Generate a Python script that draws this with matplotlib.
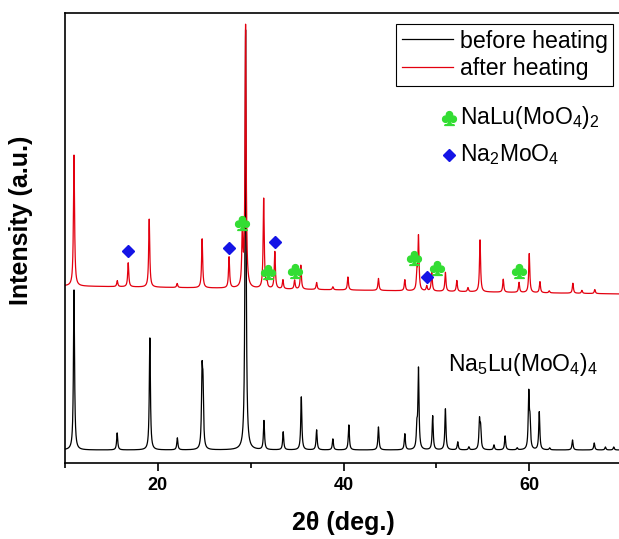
import numpy as np
import matplotlib.pyplot as plt
from matplotlib.ticker import MultipleLocator

plt.rcParams["font.family"] = ["Liberation Sans", "DejaVu Sans"]
plt.rcParams["mathtext.default"] = "regular"

# peak positions (2theta, deg) and heights (a.u.)
black_pos = [10.97, 15.62, 19.14, 22.1, 24.76, 24.86, 29.45, 31.43, 33.5, 35.45,
             37.1, 38.85, 40.57, 43.76, 46.6, 47.9, 48.07, 49.6, 50.97, 52.3,
             53.5, 54.64, 54.76, 56.2, 57.4, 58.7, 59.95, 60.08, 61.08, 62.2,
             64.66, 67.0, 68.2, 69.1]
black_int = [160, 17, 112, 12, 70, 55, 420, 29, 18, 53,
             20, 11, 25, 23, 16, 20, 80, 34, 41, 8,
             3, 28, 20, 5, 14, 2, 55, 25, 38, 2,
             10, 7, 3, 3]
black_base = 13

red_pos = [10.97, 15.63, 16.81, 19.07, 22.08, 24.77, 27.67, 29.1, 29.45, 31.4,
           31.75, 32.6, 33.47, 34.73, 35.4, 37.1, 38.85, 40.47, 43.76, 46.6,
           47.9, 48.07, 48.96, 49.5, 50.97, 52.2, 53.4, 54.7, 57.2, 58.9,
           60.0, 61.15, 62.15, 64.7, 65.67, 67.06]
red_int = [131, 6, 24, 68, 4, 49, 31, 55, 262, 90,
           6, 37, 9, 9, 24, 7, 3, 13, 12, 11,
           16, 54, 5, 19, 19, 11, 4, 52, 13, 10,
           39, 11, 2, 10, 3, 4]
red_bg_x = [10, 70]
red_bg_y = [177, 169]

# phase markers
club_x = [29.11, 31.86, 34.73, 47.63, 50.03, 58.92]
club_y = [240, 191, 192, 205, 195, 192]
diamond_x = [16.81, 27.67, 32.58, 48.96]
diamond_y = [212, 215, 221, 186]

red = "#E3000F"
green = "#33DD33"
blue = "#1414E6"


def pattern(pos, heights, x, width=0.07):
    y = np.zeros_like(x)
    for p, h in zip(pos, heights):
        y += h / (1 + ((x - p) / width) ** 2)
    return y


x = np.arange(10, 70.0001, 0.01)
before = black_base + pattern(black_pos, black_int, x)
after = np.interp(x, red_bg_x, red_bg_y) + pattern(red_pos, red_int, x)

fig = plt.figure(figsize=(6.19, 5.39), dpi=100)
ax = fig.add_axes([0.105, 0.141, 0.9, 0.835])

ax.plot(x, before, color="black", lw=0.9, label="before heating")
ax.plot(x, after, color=red, lw=0.9, label="after heating")

ax.plot(club_x, club_y, ls="none", marker="$\u2663$", ms=10, color=green)
ax.plot(diamond_x, diamond_y, ls="none", marker="D", ms=6, color=blue)

ax.plot([51.4], [345], ls="none", marker="$\u2663$", ms=10, color=green)
ax.text(52.5, 345, "NaLu(MoO$_4$)$_2$", fontsize=16.5, va="center", ha="left")
ax.plot([51.4], [308], ls="none", marker="D", ms=6, color=blue)
ax.text(52.5, 308, "Na$_2$MoO$_4$", fontsize=16.5, va="center", ha="left")
ax.text(51.3, 98, "Na$_5$Lu(MoO$_4$)$_4$", fontsize=16.5, va="center", ha="left")

ax.set_xlim(10, 70)
ax.set_ylim(0, 450)
ax.set_yticks([])
ax.xaxis.set_major_locator(MultipleLocator(20))
ax.xaxis.set_minor_locator(MultipleLocator(10))
ax.tick_params(axis="x", which="major", length=6, width=1.2, labelsize=13, pad=4)
ax.tick_params(axis="x", which="minor", length=3.5, width=1.2)
for lab in ax.get_xticklabels():
    lab.set_fontweight("bold")
for s in ax.spines.values():
    s.set_linewidth(1.2)

ax.set_xlabel("2\u03b8 (deg.)", fontsize=18, fontweight="bold", labelpad=12)
ax.set_ylabel("Intensity (a.u.)", fontsize=18, fontweight="bold")
ax.yaxis.set_label_coords(-0.058, 0.54)

leg = ax.legend(loc="upper right", bbox_to_anchor=(0.984, 0.976), borderaxespad=0,
                fontsize=16.7, fancybox=False, framealpha=1, edgecolor="black",
                handlelength=2.2, handletextpad=0.3, labelspacing=0.2, borderpad=0.25)
leg.get_frame().set_linewidth(0.8)

fig.savefig("out.png", dpi=100)
